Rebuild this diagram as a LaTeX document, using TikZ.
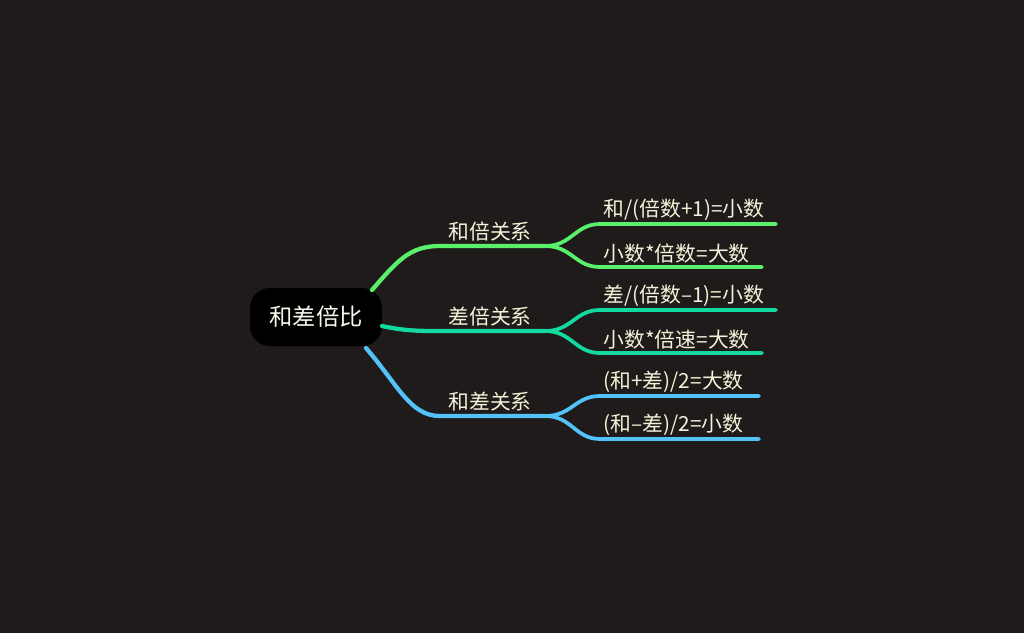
\documentclass[tikz,border=0pt]{standalone}
\usepackage{fontspec}
\setmainfont{Noto Sans CJK SC}
\begin{document}
\begin{tikzpicture}[x=0.75pt,y=-0.75pt,
  txt/.style={text=cream,font=\fontsize{15.6}{18}\selectfont,inner sep=1pt},
  br/.style={line width=3.2pt,line cap=round},
  lf/.style={line width=2.8pt,line cap=round}]
\definecolor{bg}{HTML}{1E1B1A}
\definecolor{cream}{HTML}{F6F1D8}
\definecolor{cgreen}{HTML}{5AF06C}
\definecolor{cteal}{HTML}{12D9A0}
\definecolor{cblue}{HTML}{52C2F8}
\fill[bg] (0,0) rectangle (1024,633);
\useasboundingbox (0,0) rectangle (1024,633);
% root
\node[fill=black,rounded corners=20*0.75pt,minimum width=132*0.75pt,minimum height=58*0.75pt,
  text=cream!50!white,font=\fontsize{17.5}{20}\selectfont,inner sep=0pt] (root) at (316,317) {和差倍比};
\coordinate (r1) at (372,290);
\coordinate (r2) at (382,326);
\coordinate (r3) at (366,348);
% branch points
\coordinate (g0) at (440,246); \coordinate (g1) at (545,246);
\coordinate (t0) at (440,331); \coordinate (t1) at (545,331);
\coordinate (b0) at (440,416); \coordinate (b1) at (545,416);
\draw[br,cgreen] (r1) .. controls (398,260) and (410,246) .. (g0) -- (g1);
\draw[br,cteal] (r2) .. controls (405,331) and (420,331) .. (t0) -- (t1);
\draw[br,cblue] (r3) .. controls (398,385) and (410,416) .. (b0) -- (b1);
\node[txt,anchor=south] (lg) at (490,243) {和倍关系};
\node[txt,anchor=south] (lt) at (490,328) {差倍关系};
\node[txt,anchor=south] (lb) at (490,413) {和差关系};
% leaves
\coordinate (g1a) at (600,224); \coordinate (g1b) at (776,224);
\coordinate (g2a) at (600,267); \coordinate (g2b) at (762,267);
\coordinate (t1a) at (600,310); \coordinate (t1b) at (776,310);
\coordinate (t2a) at (600,353); \coordinate (t2b) at (762,353);
\coordinate (b1a) at (600,396); \coordinate (b1b) at (759,396);
\coordinate (b2a) at (600,439); \coordinate (b2b) at (759,439);
\draw[lf,cgreen] (g1) .. controls (572,246) and (575,224) .. (g1a) -- (g1b);
\draw[lf,cgreen] (g1) .. controls (572,246) and (575,267) .. (g2a) -- (g2b);
\draw[lf,cteal] (t1) .. controls (572,331) and (575,310) .. (t1a) -- (t1b);
\draw[lf,cteal] (t1) .. controls (572,331) and (575,353) .. (t2a) -- (t2b);
\draw[lf,cblue] (b1) .. controls (572,416) and (575,396) .. (b1a) -- (b1b);
\draw[lf,cblue] (b1) .. controls (572,416) and (575,439) .. (b2a) -- (b2b);
\node[txt,anchor=south west] (x1) at (602,222) {和/(倍数+1)=小数};
\node[txt,anchor=south west] (x2) at (602,265) {小数*倍数=大数};
\node[txt,anchor=south west] (x3) at (602,308) {差/(倍数–1)=小数};
\node[txt,anchor=south west] (x4) at (602,351) {小数*倍速=大数};
\node[txt,anchor=south west] (x5) at (602,394) {(和+差)/2=大数};
\node[txt,anchor=south west] (x6) at (602,437) {(和–差)/2=小数};
\end{tikzpicture}
\end{document}
